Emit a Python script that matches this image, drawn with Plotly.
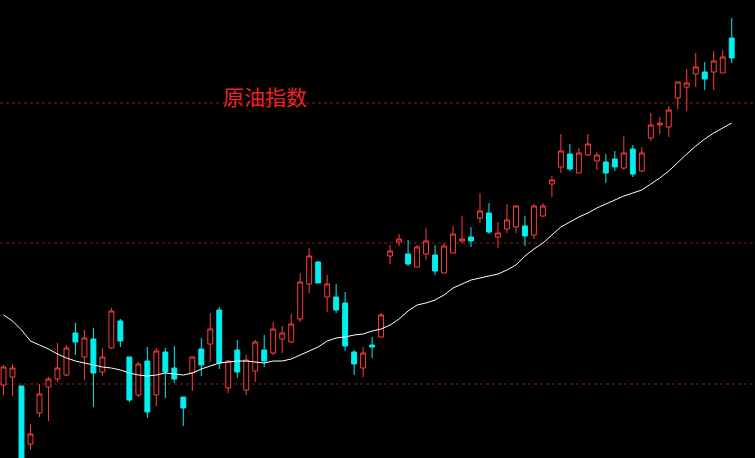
import plotly.graph_objects as go

# Price values (arbitrary index units)
open_ = [73, 81, 72, 14, 45, 71, 79, 83, 125, 101, 119, 86, 110, 137, 101, 63, 97, 63, 106, 90,
         61, 85, 109, 114, 148, 70, 108, 68, 87, 108, 105, 119, 116, 139, 174, 196, 161, 161, 155, 106,
         90, 113, 121, 202, 216, 204, 191, 204, 203, 185, 205, 217, 221, 240, 245, 221, 229, 231, 232, 223,
         242, 274, 291, 304, 285, 303, 297, 296, 299, 290, 309, 287, 320, 333, 331, 360, 371, 384, 386, 386,
         385, 420]
high = [93, 94, 72, 34, 74, 81, 115, 113, 135, 128, 130, 110, 150, 139, 101, 96, 111, 110, 110, 112,
        61, 101, 120, 145, 151, 98, 118, 103, 118, 123, 136, 132, 144, 185, 210, 197, 183, 174, 166, 108,
        111, 121, 145, 213, 224, 218, 213, 230, 213, 215, 232, 242, 231, 265, 255, 236, 254, 253, 242, 254,
        255, 282, 324, 314, 310, 324, 306, 304, 307, 322, 313, 311, 345, 341, 352, 376, 389, 405, 396, 407,
        408, 440]
low = [63, 62, -12, 8, 41, 37, 76, 82, 103, 78, 51, 82, 109, 111, 56, 61, 40, 52, 60, 75,
       32, 67, 82, 96, 89, 65, 80, 63, 76, 91, 103, 105, 115, 136, 165, 175, 146, 145, 107, 83,
       81, 100, 120, 194, 212, 192, 191, 198, 183, 185, 205, 215, 211, 235, 224, 210, 225, 225, 212, 219,
       241, 261, 285, 287, 285, 302, 288, 275, 287, 288, 281, 286, 317, 324, 321, 349, 347, 371, 368, 368,
       385, 395]
close = [91, 90, -12, 24, 64, 79, 90, 110, 116, 120, 85, 101, 147, 117, 58, 94, 46, 107, 86, 79,
         50, 101, 93, 129, 95, 97, 86, 98, 116, 97, 129, 125, 134, 176, 202, 175, 174, 148, 112, 94,
         105, 111, 143, 207, 219, 194, 211, 217, 187, 212, 224, 219, 217, 247, 226, 225, 238, 252, 222, 252,
         252, 278, 307, 289, 305, 314, 303, 285, 291, 305, 284, 305, 333, 335, 348, 376, 375, 391, 379, 397,
         401, 400]
ma = [143, 137, 128, 117, 113, 109, 104, 100, 97, 95, 93, 91, 90, 88, 85, 83, 82, 83, 85, 84,
      83, 85, 89, 92, 95, 96, 97, 97, 96, 95, 97, 97, 99, 103, 107, 111, 117, 120, 121, 123,
      124, 127, 129, 133, 139, 147, 153, 155, 158, 163, 170, 174, 178, 180, 182, 184, 188, 193, 202, 209,
      215, 223, 231, 236, 241, 245, 250, 254, 258, 262, 265, 268, 274, 280, 287, 296, 304, 312, 319, 325,
      330, 335]
grid_levels = [355, 215, 74]
title_text = "原油指数"

idx = list(range(len(open_)))

fig = go.Figure()
fig.add_trace(go.Candlestick(
    x=idx, open=open_, high=high, low=low, close=close,
    increasing=dict(line=dict(color="#ff3c3c", width=1), fillcolor="#000000"),
    decreasing=dict(line=dict(color="#00f0f0", width=1), fillcolor="#00f0f0"),
    whiskerwidth=0, showlegend=False, hoverinfo="skip",
))
fig.add_trace(go.Scatter(x=idx, y=ma, mode="lines",
                         line=dict(color="#ffffff", width=1), showlegend=False, hoverinfo="skip"))

for g in grid_levels:
    fig.add_shape(type="line", xref="paper", x0=0, x1=1, yref="y", y0=g, y1=g,
                  line=dict(color="#8c1e1e", width=1, dash="3px,3px"), layer="below")

fig.add_annotation(text=title_text, xref="paper", yref="paper", x=221/755, y=1-96/458,
                   xanchor="left", yanchor="middle", showarrow=False,
                   font=dict(family="Noto Sans CJK SC", size=21, color="#ee2222"))

fig.update_layout(
    width=755, height=458, margin=dict(l=0, r=0, t=0, b=0),
    paper_bgcolor="#000000", plot_bgcolor="#000000",
    boxgap=0.22,
    xaxis=dict(range=[-0.39, 83.59], visible=False, showgrid=False, rangeslider=dict(visible=False),
               fixedrange=True),
    yaxis=dict(range=[0, 458], visible=False, showgrid=False, fixedrange=True),
)

fig.write_html("out.html", config={"displayModeBar": False},
               post_script="document.body.style.margin='0';document.body.style.background='#000';")
